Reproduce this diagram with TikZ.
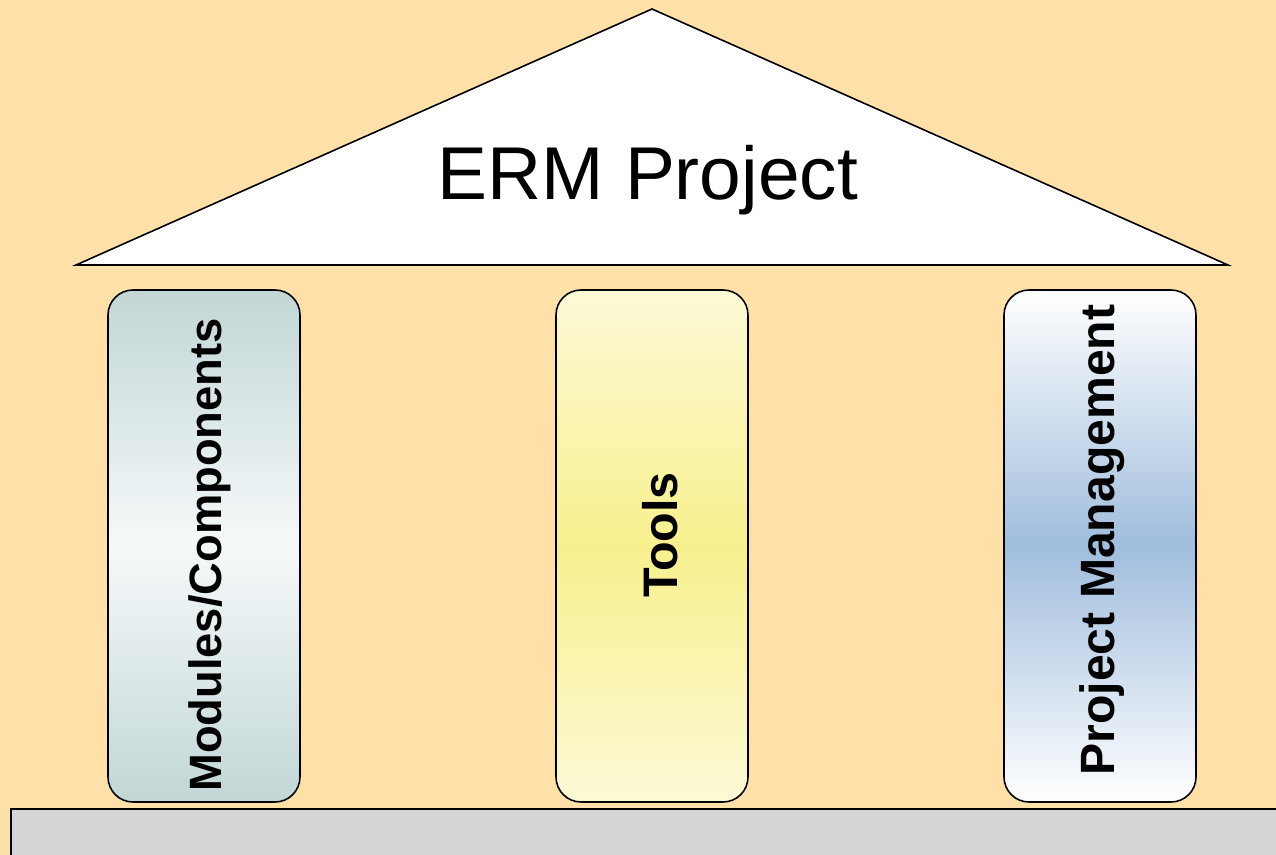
\documentclass[tikz,border=0pt]{standalone}
\usepackage{fontspec}
\setmainfont{Liberation Sans}
\begin{document}
\begin{tikzpicture}[x=0.02cm,y=-0.02cm,
  outline/.style={draw=black, line width=0.9pt},
  pillar/.style={outline, rounded corners=0.5cm, minimum width=192*0.02cm, minimum height=512*0.02cm, inner sep=0pt},
  pillarlabel/.style={rotate=90, inner sep=0pt}
]
\definecolor{bgpeach}{HTML}{FFE0A8}
\definecolor{slate}{HTML}{C2D6D6}
\definecolor{slatelight}{HTML}{F6F9FA}
\definecolor{paleyellow}{HTML}{FCF9D6}
\definecolor{yellowmid}{HTML}{F8F08E}
\definecolor{steelblue}{HTML}{A0BDDD}
\definecolor{basegray}{HTML}{D6D6D6}

% background
\fill[bgpeach] (0,0) rectangle (1276,855);
\useasboundingbox (0,0) rectangle (1276,855);

% roof
\coordinate (apex) at (652,9);
\coordinate (roofL) at (76,265);
\coordinate (roofR) at (1228,265);
\filldraw[outline, fill=white, line join=miter] (roofL) -- (apex) -- (roofR) -- cycle;
\node[font=\fontsize{42.6}{48}\selectfont] (roof) at (648,180) {ERM Project};

% pillars
\node[pillar, top color=slate, bottom color=slate, middle color=slatelight] (p1) at (204,546) {};
\node[pillar, top color=paleyellow, bottom color=paleyellow, middle color=yellowmid] (p2) at (652,546) {};
\node[pillar, top color=white, bottom color=white, middle color=steelblue] (p3) at (1100,546) {};

\node[pillarlabel, font=\fontsize{25.8}{30}\selectfont\bfseries] (l1) at (210,555) {Modules/Components};
\node[pillarlabel, font=\fontsize{27.6}{30}\selectfont\bfseries] (l2) at (660,535) {Tools};
\node[pillarlabel, font=\fontsize{27.4}{30}\selectfont\bfseries] (l3) at (1102,540) {Project Management};

% base
\filldraw[outline, fill=basegray] (11,809) rectangle (1290,870);
\end{tikzpicture}
\end{document}
